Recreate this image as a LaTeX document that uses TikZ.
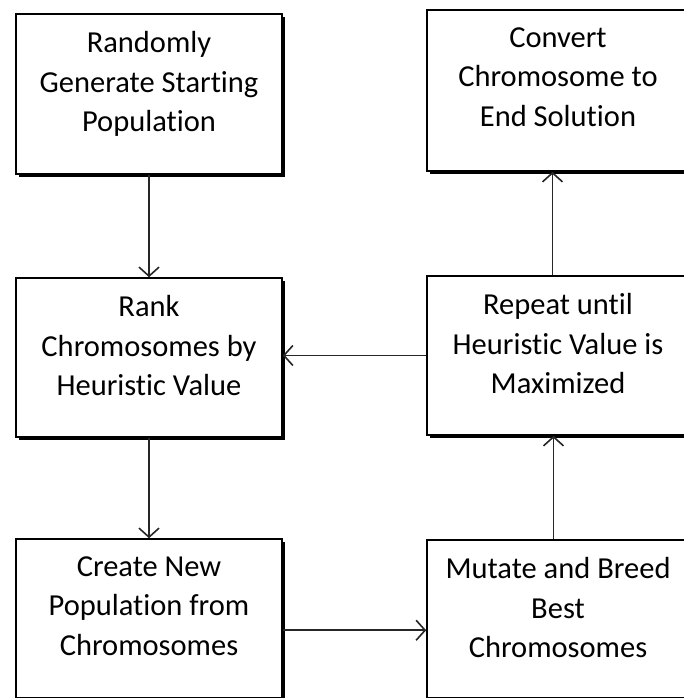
\documentclass[tikz,border=0pt]{standalone}
\usepackage{fontspec}
\setmainfont{Carlito}[Ligatures={NoCommon, NoContextual}]
\usetikzlibrary{positioning, arrows.meta, shadows, calc}

\tikzset{
  stepbox/.style={draw=black, line width=1.6pt, fill=white,
    minimum width=266pt, minimum height=160pt, inner sep=0pt,
    drop shadow={shadow xshift=2.5pt, shadow yshift=-3pt, fill=black, opacity=1}},
  widebox/.style={stepbox, minimum width=262pt},
  steptext/.style={align=center, anchor=north, inner sep=0pt,
    font=\fontsize{30.5}{39.5}\selectfont, execute at begin node=\strut},
  flow/.style={line width=1.6pt, draw=black!85,
    -{Straight Barb[length=9pt, width=20pt, line width=1.6pt]}}
}

\begin{document}
\begin{tikzpicture}[x=1pt, y=-1pt]
  \useasboundingbox (0,0) rectangle (683,698);

  % left column
  \node[stepbox] (rand) at (149,94) {};
  \node[stepbox, minimum height=159pt] (rank) at (149,357.5) {};
  \node[stepbox, minimum height=158.5pt] (create) at (149,618.25) {};

  % right column (runs past the right edge)
  \node[widebox, minimum height=161pt] (conv) at (558,90.5) {};
  \node[widebox, minimum height=159pt] (rep) at (558,355.5) {};
  \node[widebox, minimum height=158pt] (mut) at (558,619) {};

  % texts
  \node[steptext] (randtxt) at ([yshift=-18pt]rand.north) {Randomly\\Generate Starting\\Population};
  \node[steptext] (ranktxt) at ([yshift=-18pt]rank.north) {Rank\\Chromosomes by\\Heuristic Value};
  \node[steptext] (createtxt) at ([yshift=-18pt]create.north) {Create New\\Population from\\Chromosomes};
  \node[steptext] (convtxt) at ([yshift=-18pt]conv.north) {Convert\\Chromosome to\\End Solution};
  \node[steptext] (reptxt) at ([yshift=-18pt]rep.north) {Repeat until\\Heuristic Value is\\Maximized};
  \node[steptext] (muttxt) at ([yshift=-18pt]mut.north) {Mutate and Breed\\Best\\Chromosomes};

  % connectors
  \draw[flow] (rand.south) -- (rank.north);
  \draw[flow] (rank.south) -- (create.north);
  \draw[flow] ([yshift=-12pt]create.east) -- ([yshift=-12pt]create.east -| mut.west);
  \draw[flow] ([xshift=-4.5pt]mut.north) -- ([xshift=-4.5pt]rep.south);
  \draw[flow] ([xshift=-5.5pt]rep.north) -- ([xshift=-5.5pt]conv.south);
  \draw[flow] (rep.west) -- (rep.west -| rank.east);
\end{tikzpicture}
\end{document}
